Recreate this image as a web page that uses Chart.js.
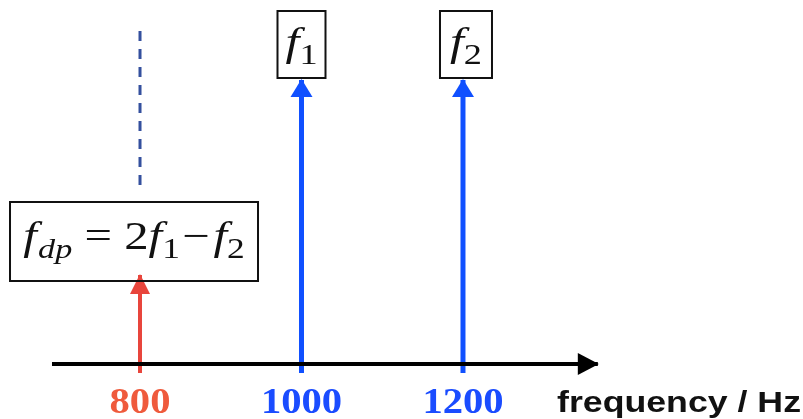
<!DOCTYPE html>
<html><head><meta charset="utf-8">
<script src="https://cdn.jsdelivr.net/npm/chart.js@4/dist/chart.umd.min.js"></script>
<style>html,body{margin:0;padding:0;background:#fff;overflow:hidden}#wrap{width:803px;height:419px}</style>
</head><body><div id="wrap"><canvas id="c" width="803" height="419"></canvas></div>
<script>
// ---- data ----
const categories = ['fdp', 'f1', 'f2'];
const frequencies = [800, 1000, 1200];
const amplitudes = [89, 284, 284];
const tickValues = [800, 1000, 1200];
const tickLabels = ['800', '1000', '1200'];
const axisLabel = 'frequency / Hz';
const axisSpan = [691, 1367];
const stemBase = -9;
const dashedSpan = [179, 334];
const xRange = [626.6, 1621.1];
const yRange = [-55, 364];

// ---- styles ----
const arrowColors = ['#e8453c', '#1050ff', '#1050ff'];
const arrowWidths = [4, 5, 5];
const tickColors = ['#ef5a3c', '#1a4cff', '#1a4cff'];
const SERIF = '"Liberation Serif", "Times New Roman", serif';
const SANS = '"Liberation Sans", Arial, sans-serif';

const datasets = [];
datasets.push({
  data: [{x: axisSpan[0], y: 0}, {x: axisSpan[1], y: 0}],
  borderColor: '#000', borderWidth: 4, pointRadius: 0, showLine: true,
  arrow: {len: 21, half: 11, color: '#000'}
});
frequencies.forEach((f, i) => {
  datasets.push({
    label: categories[i],
    data: [{x: f, y: stemBase}, {x: f, y: amplitudes[i]}],
    borderColor: arrowColors[i], borderWidth: arrowWidths[i], pointRadius: 0, showLine: true,
    borderCapStyle: 'butt',
    arrow: i === 0 ? {len: 20, half: 10, color: arrowColors[i]} : {len: 18, half: 11, color: arrowColors[i]}
  });
});
datasets.push({
  data: [{x: frequencies[0], y: dashedSpan[0]}, {x: frequencies[0], y: dashedSpan[1]}],
  borderColor: '#34509e', borderWidth: 3, borderDash: [10, 8], pointRadius: 0, showLine: true,
  borderCapStyle: 'butt'
});

const arrowPlugin = {
  id: 'arrows',
  afterDatasetsDraw(chart) {
    const ctx = chart.ctx;
    chart.data.datasets.forEach((ds, i) => {
      if (!ds.arrow) return;
      const meta = chart.getDatasetMeta(i);
      const p0 = meta.data[0], p1 = meta.data[meta.data.length - 1];
      let dx = p1.x - p0.x, dy = p1.y - p0.y;
      const L = Math.hypot(dx, dy); dx /= L; dy /= L;
      const tx = p1.x + dx * 1, ty = p1.y + dy * 1;
      const bx = tx - dx * ds.arrow.len, by = ty - dy * ds.arrow.len;
      const nx = -dy, ny = dx;
      ctx.save();
      ctx.fillStyle = ds.arrow.color;
      ctx.beginPath();
      ctx.moveTo(tx, ty);
      ctx.lineTo(bx + nx * ds.arrow.half, by + ny * ds.arrow.half);
      ctx.lineTo(bx - nx * ds.arrow.half, by - ny * ds.arrow.half);
      ctx.closePath();
      ctx.fill();
      ctx.restore();
    });
  }
};

function drawSegments(ctx, segs, cx, baseline, sx) {
  let w = 0;
  segs.forEach(s => {
    ctx.font = (s.it ? 'italic ' : '') + s.size + 'px ' + SERIF;
    s.w = ctx.measureText(s.t).width + (s.gap || 0) + (s.after || 0);
    w += s.w;
  });
  ctx.save();
  ctx.translate(cx, baseline);
  ctx.scale(sx, 1);
  let x = -w / 2;
  ctx.fillStyle = '#111';
  ctx.textBaseline = 'alphabetic';
  ctx.textAlign = 'left';
  segs.forEach(s => {
    ctx.font = (s.it ? 'italic ' : '') + s.size + 'px ' + SERIF;
    x += (s.gap || 0);
    ctx.fillText(s.t, x, s.dy || 0);
    x += s.w - (s.gap || 0);
  });
  ctx.restore();
}

function stretchedText(ctx, text, x, y, sx, align) {
  ctx.save();
  ctx.translate(x, y);
  ctx.scale(sx, 1);
  ctx.textAlign = align;
  ctx.fillText(text, 0, 0);
  ctx.restore();
}

function box(ctx, l, t, r, b) {
  ctx.save();
  ctx.strokeStyle = '#111';
  ctx.lineWidth = 2;
  ctx.strokeRect(l, t, r - l, b - t);
  ctx.restore();
}

const textPlugin = {
  id: 'texts',
  afterDraw(chart) {
    const ctx = chart.ctx;
    const xs = chart.scales.x, ys = chart.scales.y;
    const y0 = ys.getPixelForValue(0);
    // tick labels
    ctx.save();
    ctx.font = 'bold 35px ' + SERIF;
    ctx.textBaseline = 'alphabetic';
    tickValues.forEach((v, i) => {
      ctx.fillStyle = tickColors[i];
      stretchedText(ctx, tickLabels[i], xs.getPixelForValue(v), y0 + 49, 1.16, 'center');
    });
    // axis title
    ctx.fillStyle = '#111';
    ctx.font = 'bold 30px ' + SANS;
    stretchedText(ctx, axisLabel, 801, y0 + 48, 1.19, 'right');
    ctx.restore();

    // f1 / f2 boxes
    [1, 2].forEach(i => {
      const px = xs.getPixelForValue(frequencies[i]);
      const tip = ys.getPixelForValue(amplitudes[i]);
      const off = i === 2 ? 3 : 0;
      const w = i === 2 ? 52 : 48;
      const b = tip - 2, t = b - 67;
      box(ctx, px + off - w / 2, t, px + off + w / 2, b);
      drawSegments(ctx, [
        {t: 'f', it: true, size: 40},
        {t: String(i), size: 29, dy: 9, gap: 0}
      ], px + off, t + 44, 1.25);
    });
    // fdp box
    const px0 = xs.getPixelForValue(frequencies[0]);
    const tip0 = ys.getPixelForValue(amplitudes[0]);
    const b0 = tip0 + 6, t0 = b0 - 79;
    box(ctx, px0 - 130, t0, px0 + 118, b0);
    drawSegments(ctx, [
      {t: 'f', it: true, size: 40},
      {t: 'dp', it: true, size: 28, dy: 9, gap: 1},
      {t: ' = 2', size: 40},
      {t: 'f', it: true, size: 40},
      {t: '1', size: 29, dy: 9, gap: 0},
      {t: '\u2212', size: 40, gap: 2, after: 3},
      {t: 'f', it: true, size: 40},
      {t: '2', size: 29, dy: 9, gap: 0}
    ], px0 - 6, t0 + 47, 1.22);
  }
};

new Chart(document.getElementById('c'), {
  type: 'scatter',
  data: {datasets},
  options: {
    responsive: false,
    animation: false,
    layout: {padding: 0},
    plugins: {legend: {display: false}, tooltip: {enabled: false}},
    scales: {
      x: {type: 'linear', min: xRange[0], max: xRange[1], display: false},
      y: {type: 'linear', min: yRange[0], max: yRange[1], display: false}
    }
  },
  plugins: [arrowPlugin, textPlugin]
});
</script>
</body></html>
